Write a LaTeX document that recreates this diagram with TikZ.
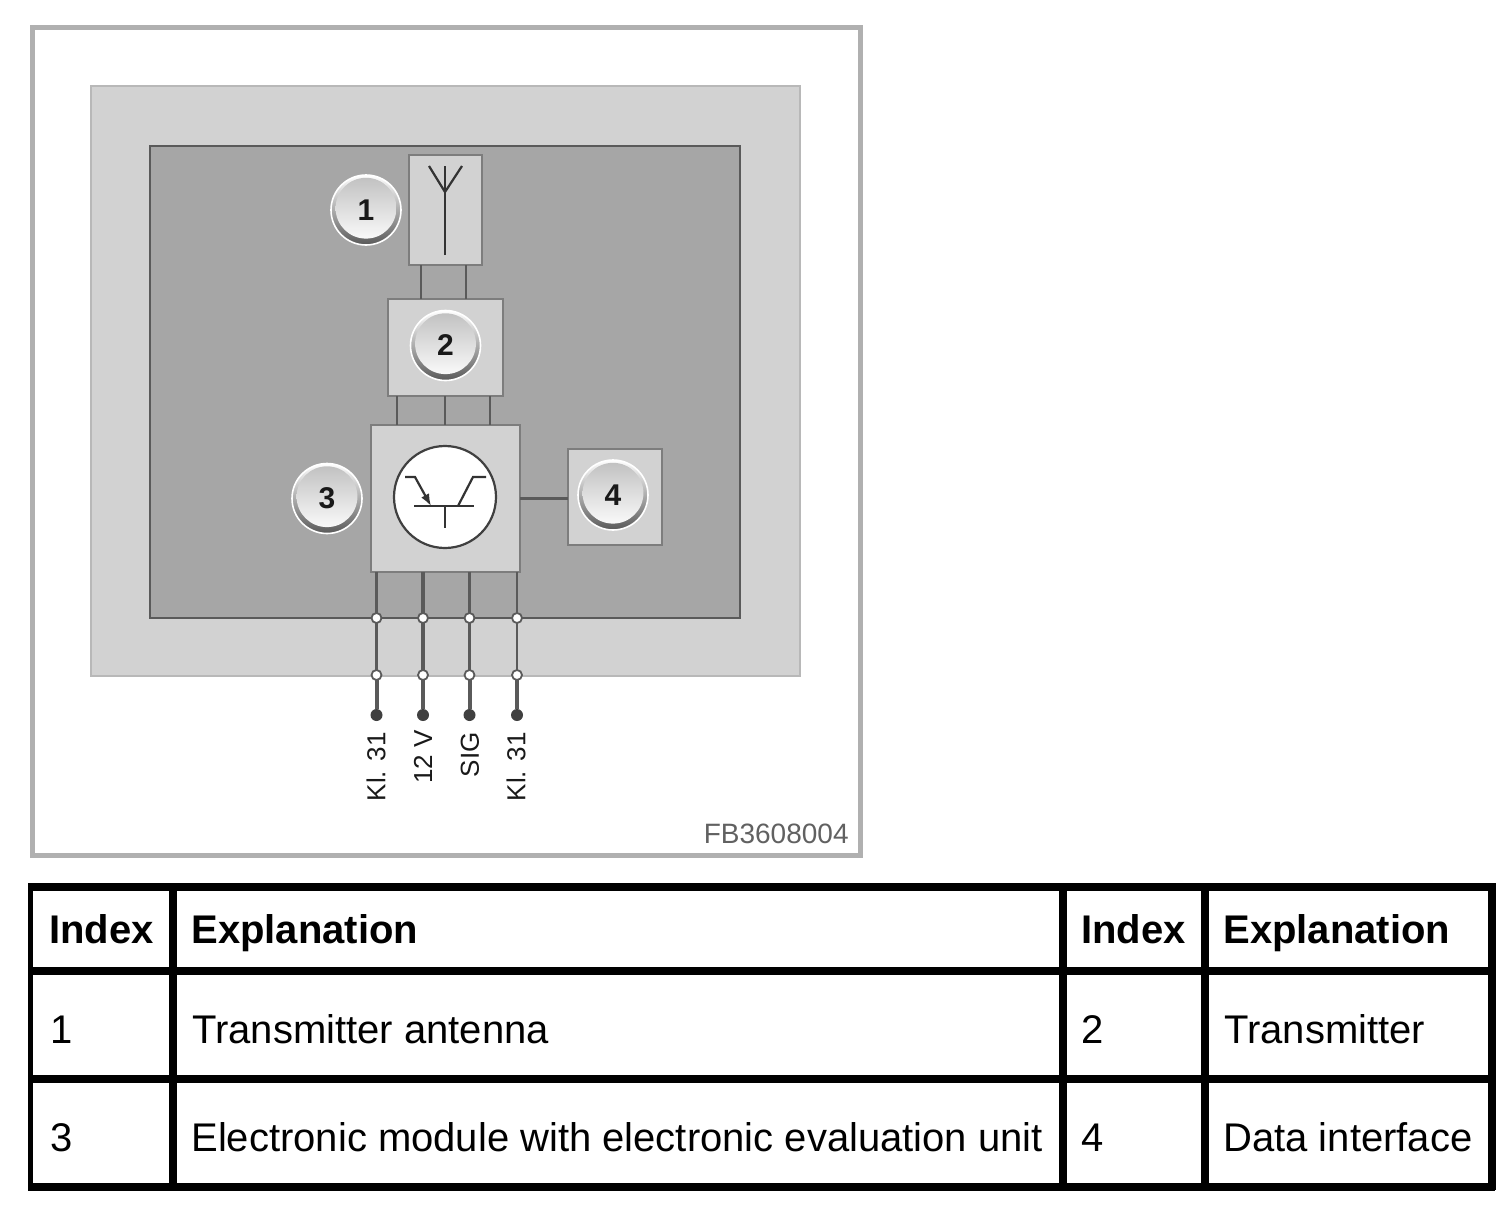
\documentclass[tikz,border=0pt]{standalone}
\usepackage{fontspec}
\setmainfont{Liberation Sans}
\usetikzlibrary{arrows.meta,positioning}
\definecolor{framegray}{RGB}{176,176,176}
\definecolor{linegray}{RGB}{90,90,90}
\definecolor{softgray}{RGB}{210,210,210}
\definecolor{midgray}{RGB}{166,166,166}
\definecolor{edgegray}{RGB}{184,184,184}
\definecolor{boxedge}{RGB}{125,125,125}
\tikzset{
  unit/.style={
    draw=boxedge,
    line width=1.4pt,
    fill=softgray,
    inner sep=0pt,
    outer sep=0pt
  },
  badge/.style={
    circle,
    draw=white,
    line width=0.8pt,
    minimum size=35pt,
    inner sep=0pt,
    outer sep=0pt,
    top color=white,
    bottom color=black!65,
    font=\fontsize{15}{15}\bfseries,
    text=black!90,
    path picture={
      \shade[top color=black!25, bottom color=white]
        ([yshift=0.9pt]path picture bounding box.center) circle (15.2pt);
    }
  },
  wire/.style={draw=linegray, line width=1.3pt},
  symbol/.style={draw=black!80, line width=1.1pt},
  termopen/.style={circle, draw=linegray, fill=white, line width=0.9pt, minimum size=5pt, inner sep=0pt, outer sep=0pt},
  termdot/.style={circle, fill=black!75, minimum size=6pt, inner sep=0pt, outer sep=0pt},
  pinlabel/.style={rotate=90, anchor=east, inner sep=0pt, font=\fontsize{13}{13}\selectfont, text=black!90},
  cell/.style={anchor=base west, inner sep=0pt, font=\fontsize{20}{20}\selectfont},
  headcell/.style={cell, font=\fontsize{20}{20}\bfseries},
  rule/.style={draw=black, line width=4pt}
}
\begin{document}
\begin{tikzpicture}[x=0.5pt, y=-0.5pt]
    \useasboundingbox (0,0) rectangle (1505,1205);
    \draw[draw=framegray, line width=2.5pt, fill=white] (32.5,27.5) rectangle (860,855);
    \draw[draw=edgegray, line width=1.2pt, fill=softgray] (91,86) rectangle (800,676);
    \draw[draw=linegray, line width=1.2pt, fill=midgray] (150,146) rectangle (740,618);

    \node[unit, minimum width=36.5pt, minimum height=55pt] (box1) at (445.5,210) {};
    \node[unit, below=17pt of box1, minimum width=57.5pt, minimum height=48.5pt] (box2) {};
    \node[unit, below=14.5pt of box2, minimum width=74.5pt, minimum height=73.5pt] (box3) {};
    \node[unit, right=24pt of box3, yshift=0.75pt, minimum width=47pt, minimum height=48pt] (box4) {};

    \node[badge, left=4pt of box1] (badge1) {1};
    \node[badge, yshift=1pt] (badge2) at (box2.center) {2};
    \node[badge, left=4.5pt of box3] (badge3) {3};
    \node[badge, xshift=-1pt, yshift=1pt] (badge4) at (box4.center) {4};

    \foreach \wx in {421,466}
      \draw[wire] (\wx,0 |- box1.south) -- (\wx,0 |- box2.north);
    \foreach \wx in {397,445,490}
      \draw[wire] (\wx,0 |- box2.south) -- (\wx,0 |- box3.north);
    \draw[wire] (box3.east) -- (box4.west |- box3.east);

    \coordinate (ant) at (445,192);
    \coordinate (antL) at (429,166);
    \coordinate (antM) at (445,166);
    \coordinate (antR) at (462,166);
    \coordinate (antB) at (445,255);
    \draw[symbol] (antB) -- (ant);
    \draw[symbol] (antL) -- (ant) -- (antR);
    \draw[symbol] (ant) -- (antM);

    \node[circle, draw=black!75, line width=1.1pt, fill=white, minimum size=51pt, inner sep=0pt, outer sep=0pt] (tr) at (445,497) {};
    \coordinate (barL) at (414,506);
    \coordinate (barR) at (474,506);
    \coordinate (gate) at (445,506);
    \coordinate (gateB) at (445,528);
    \coordinate (emA) at (405,477);
    \coordinate (emB) at (415,477);
    \coordinate (emC) at (431,506);
    \coordinate (colA) at (486,477);
    \coordinate (colB) at (473,477);
    \coordinate (colC) at (458,506);
    \draw[symbol] (barL) -- (barR);
    \draw[symbol] (gate) -- (gateB);
    \draw[symbol, -{Latex[length=6pt,width=4.5pt]}] (emA) -- (emB) -- (emC);
    \draw[symbol] (colA) -- (colB) -- (colC);

    \foreach \pname/\wx/\wlw in {a/376.5/1.3pt, b/423/2pt, c/469.5/1.3pt, d/517/1.3pt} {
      \node[termopen] (top\pname) at (\wx,618) {};
      \node[termopen] (mid\pname) at (\wx,675) {};
      \node[termdot] (end\pname) at (\wx,715) {};
      \draw[wire, line width=\wlw] (\wx,0 |- box3.south) -- (top\pname);
      \draw[wire, line width=\wlw] (top\pname) -- (mid\pname);
      \draw[wire, line width=2pt] (mid\pname) -- (end\pname);
    }

    \node[pinlabel] (labela) at (376,732) {Kl. 31};
    \node[pinlabel] (labelb) at (423,730) {12 V};
    \node[pinlabel] (labelc) at (470,732) {SIG};
    \node[pinlabel] (labeld) at (516,732) {Kl. 31};
    \node[anchor=base east, inner sep=0pt, font=\fontsize{14}{14}\selectfont, text=black!62] (fig) at (849,843) {FB3608004};

    \foreach \ty in {887,971,1079,1186.5}
      \draw[rule] (28,\ty) -- (1495,\ty);
    \draw[rule, line width=2.5pt] (30.5,883) -- (30.5,1190);
    \foreach \tx in {172.5,1062.5,1205,1491.5}
      \draw[rule] (\tx,883) -- (\tx,1190);

    \node[headcell] (h1) at (49,943) {Index};
    \node[headcell] (h2) at (191,943) {Explanation};
    \node[headcell] (h3) at (1081,943) {Index};
    \node[headcell] (h4) at (1223,943) {Explanation};
    \node[cell] (r1a) at (50,1043) {1};
    \node[cell] (r1b) at (192,1043) {Transmitter antenna};
    \node[cell] (r1c) at (1081,1043) {2};
    \node[cell] (r1d) at (1224,1043) {Transmitter};
    \node[cell] (r2a) at (50,1151) {3};
    \node[cell] (r2b) at (191,1151) {Electronic module with electronic evaluation unit};
    \node[cell] (r2c) at (1081,1151) {4};
    \node[cell] (r2d) at (1223,1151) {Data interface};
  \end{tikzpicture}
\end{document}
